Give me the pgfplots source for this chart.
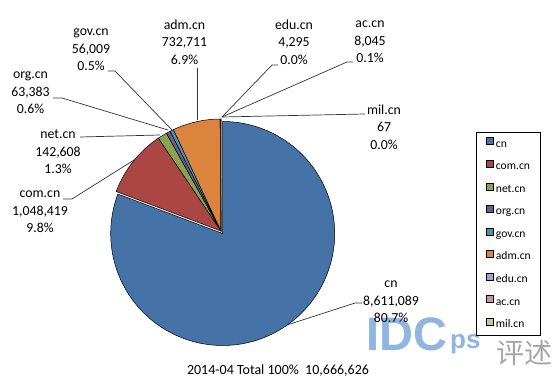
\documentclass[border=0pt]{standalone}
\usepackage{pgfplots}
\pgfplotsset{compat=1.18}
\usepackage{fontspec}
\setmainfont{Carlito}
\newfontfamily\wmfont{Liberation Sans}
\newfontfamily\cjk{Noto Sans CJK SC}

\definecolor{cnblue}{HTML}{4572A7}
\definecolor{comred}{HTML}{AA4643}
\definecolor{netgreen}{HTML}{89A54E}
\definecolor{orgpurple}{HTML}{71588F}
\definecolor{govteal}{HTML}{4198AF}
\definecolor{admorange}{HTML}{DB843D}
\definecolor{edublue}{HTML}{93A9CF}
\definecolor{acpink}{HTML}{D19392}
\definecolor{milgreen}{HTML}{B9CD96}
\definecolor{wmblue}{HTML}{8FB5E0}

% data (domain counts, 2014-04)
\def\vcn{8611089}
\def\vcom{1048419}
\def\vnet{142608}
\def\vorg{63383}
\def\vgov{56009}
\def\vadm{732711}
\def\vedu{4295}
\def\vac{8045}
\def\vmil{67}
\def\vtotal{10666626}

\newcommand\setangle[2]{\begingroup
  \pgfkeys{/pgf/fpu=true,/pgf/fpu/output format=fixed}%
  \pgfmathparse{90-(#2)/\vtotal*360}%
  \expandafter\xdef\csname #1\endcsname{\pgfmathresult}%
  \endgroup}
\setangle{aA}{0}
\setangle{aB}{\vcn}
\setangle{aC}{\vcn+\vcom}
\setangle{aD}{\vcn+\vcom+\vnet}
\setangle{aE}{\vcn+\vcom+\vnet+\vorg}
\setangle{aF}{\vcn+\vcom+\vnet+\vorg+\vgov}
\setangle{aG}{\vcn+\vcom+\vnet+\vorg+\vgov+\vadm}
\setangle{aH}{\vcn+\vcom+\vnet+\vorg+\vgov+\vadm+\vedu}
\setangle{aI}{\vcn+\vcom+\vnet+\vorg+\vgov+\vadm+\vedu+\vac}
\setangle{aJ}{\vcn+\vcom+\vnet+\vorg+\vgov+\vadm+\vedu+\vac+\vmil}

\newcommand\lab{\fontsize{13.8}{17.5}\selectfont}

\begin{document}
\begin{tikzpicture}
\begin{axis}[
  width=557pt, height=381pt, scale only axis,
  xmin=0, xmax=557, ymin=0, ymax=381,
  hide axis, clip=false,
  legend style={at={(0.8546,0.6535)}, anchor=north west,
    draw=black, line width=0.8pt, fill=none,
    inner xsep=10pt, inner ysep=5pt,
    nodes={inner sep=0pt, text height=8pt, text depth=3pt},
    column sep=2pt, row sep=9.8pt,
    font=\fontsize{11.6}{11.6}\selectfont},
  legend cell align=left,
  legend image code/.code={\draw[#1,draw=black,line width=0.5pt] (0pt,0pt) rectangle (7pt,7pt);},
]
% watermark
\node[anchor=base west, text=wmblue, font=\wmfont\bfseries\fontsize{47}{47}\selectfont, inner sep=0pt] at (axis cs:366,31) {IDC};
\node[anchor=base west, text=wmblue, font=\wmfont\bfseries\fontsize{26}{26}\selectfont, inner sep=0pt] at (axis cs:450,33) {ps};
\node[anchor=center, text=black!35, font=\cjk\fontsize{28}{28}\selectfont, inner sep=0pt] at (axis cs:524,28) {评述};

% slices (clockwise from 12 o'clock)
\addplot[fill=cnblue, draw=black, line width=0.5pt, domain=\aB:\aA, samples=160, variable=\t]
  ({222.7+112*cos(\t)},{147.5+112*sin(\t)}) -- (axis cs:222.7,147.5) -- cycle;
\addlegendentry{cn}
\addplot[fill=comred, draw=black, line width=0.5pt, domain=\aC:\aB, samples=40, variable=\t]
  ({221+112*cos(\t)},{150+112*sin(\t)}) -- (axis cs:221,150) -- cycle;
\addlegendentry{com.cn}
\addplot[fill=netgreen, draw=black, line width=0.5pt, domain=\aD:\aC, samples=8, variable=\t]
  ({221+112*cos(\t)},{150+112*sin(\t)}) -- (axis cs:221,150) -- cycle;
\addlegendentry{net.cn}
\addplot[fill=orgpurple, draw=black, line width=0.5pt, domain=\aE:\aD, samples=5, variable=\t]
  ({221+112*cos(\t)},{150+112*sin(\t)}) -- (axis cs:221,150) -- cycle;
\addlegendentry{org.cn}
\addplot[fill=govteal, draw=black, line width=0.5pt, domain=\aF:\aE, samples=5, variable=\t]
  ({221+112*cos(\t)},{150+112*sin(\t)}) -- (axis cs:221,150) -- cycle;
\addlegendentry{gov.cn}
\addplot[fill=admorange, draw=black, line width=0.5pt, domain=\aG:\aF, samples=30, variable=\t]
  ({221+112*cos(\t)},{150+112*sin(\t)}) -- (axis cs:221,150) -- cycle;
\addlegendentry{adm.cn}
\addplot[fill=edublue, draw=black, line width=0.5pt, domain=\aH:\aG, samples=2, variable=\t]
  ({221+112*cos(\t)},{150+112*sin(\t)}) -- (axis cs:221,150) -- cycle;
\addlegendentry{edu.cn}
\addplot[fill=acpink, draw=black, line width=0.5pt, domain=\aI:\aH, samples=2, variable=\t]
  ({221+112*cos(\t)},{150+112*sin(\t)}) -- (axis cs:221,150) -- cycle;
\addlegendentry{ac.cn}
\addplot[fill=milgreen, draw=black, line width=0.5pt, domain=\aJ:\aI, samples=2, variable=\t]
  ({221+112*cos(\t)},{150+112*sin(\t)}) -- (axis cs:221,150) -- cycle;
\addlegendentry{mil.cn}

% leader lines
\addplot[forget plot, black!80, line width=0.7pt] coordinates {(287,56) (355,78) (362,78)};
\addplot[forget plot, black!80, line width=0.7pt] coordinates {(134,221) (72,182) (63,182)};
\addplot[forget plot, black!80, line width=0.7pt] coordinates {(160,246) (80,244)};
\addplot[forget plot, black!80, line width=0.7pt] coordinates {(168,251) (62,283) (53,283)};
\addplot[forget plot, black!80, line width=0.7pt] coordinates {(172,251) (115,310) (108,310)};
\addplot[forget plot, black!80, line width=0.7pt] coordinates {(197,261) (197,313)};
\addplot[forget plot, black!80, line width=0.7pt] coordinates {(222,264) (272,316) (278,316)};
\addplot[forget plot, black!80, line width=0.7pt] coordinates {(222,264) (347,319) (353,319)};
\addplot[forget plot, black!80, line width=0.7pt] coordinates {(222,264) (365,267)};

% data labels
\node[align=center, font=\lab] at (axis cs:391,79) {cn\\8,611,089\\80.7\%};
\node[align=center, font=\lab] at (axis cs:40,169) {com.cn\\1,048,419\\9.8\%};
\node[align=center, font=\lab] at (axis cs:58,229) {net.cn\\142,608\\1.3\%};
\node[align=center, font=\lab] at (axis cs:30.5,288) {org.cn\\63,383\\0.6\%};
\node[align=center, font=\lab] at (axis cs:91,331) {gov.cn\\56,009\\0.5\%};
\node[align=center, font=\lab] at (axis cs:184.5,339) {adm.cn\\732,711\\6.9\%};
\node[align=center, font=\lab] at (axis cs:294,339) {edu.cn\\4,295\\0.0\%};
\node[align=center, font=\lab] at (axis cs:370,339) {ac.cn\\8,045\\0.1\%};
\node[align=center, font=\lab] at (axis cs:384,254) {mil.cn\\67\\0.0\%};

% title at bottom
\node[font=\fontsize{14}{14}\selectfont] at (axis cs:278,10) {2014-04 Total 100\%\ \ 10,666,626};
\end{axis}
\pgfresetboundingbox
\path (0,0) rectangle (557pt,381pt);
\end{tikzpicture}
\end{document}
